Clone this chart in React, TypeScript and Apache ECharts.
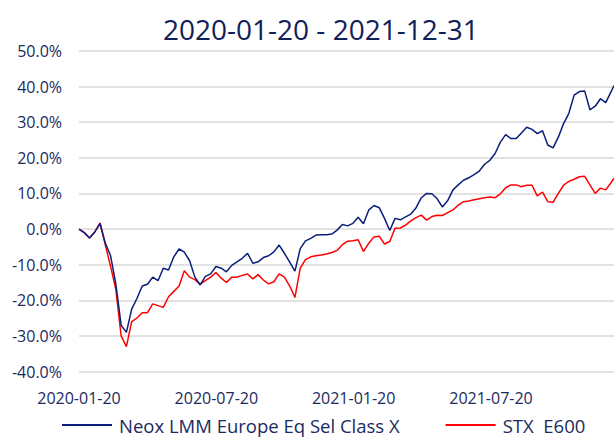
import React, { useEffect, useRef } from "react";
import * as echarts from "echarts";

const titleText = "2020-01-20 - 2021-12-31";
const startDate = "2020-01-20";
const endDate = "2021-12-31";
const xTickLabels = ["2020-01-20", "2020-07-20", "2021-01-20", "2021-07-20"];
const seriesNames = ["Neox LMM Europe Eq Sel Class X", "STX  E600"];

// weekly readings (every 7 calendar days from 2020-01-20), last value = 2021-12-31, in %
const neox = [
  0, -1.0, -2.5, -0.8, 1.5, -4.0, -7.5, -15.5, -27, -29,
  -22.5, -19.5, -16, -15.5, -13.5, -14.5, -11, -11.5, -7.8, -5.6,
  -6.5, -8.9, -13.5, -15.7, -13.3, -12.6, -10.5, -11, -12, -10.2,
  -9.2, -8.2, -6.8, -9.6, -9.2, -8, -7.5, -6.4, -4.5, -6.8,
  -9.3, -11.8, -5.5, -3.3, -2.6, -1.7, -1.6, -1.6, -1.4, -0.3,
  1.3, 0.9, 1.6, 3.3, 1.5, 5.3, 6.6, 6.0, 3.0, -0.4,
  3.0, 2.6, 3.4, 4.2, 6.0, 8.8, 10.0, 9.9, 8.5, 6.2,
  8.0, 11.0, 12.4, 13.7, 14.4, 15.3, 16.3, 18.2, 19.3, 21.2,
  24.4, 26.5, 25.4, 25.4, 27.0, 28.6, 28.0, 26.8, 27.6, 23.6,
  22.8, 25.8, 29.6, 32.5, 37.6, 38.6, 38.8, 33.5, 34.5, 36.6,
  35.5, 38.5, 40.3,
];
const stoxx = [
  0, -1.0, -2.5, -0.8, 1.7, -4.5, -10.5, -17, -30, -33,
  -26, -25, -23.5, -23.5, -21, -21.5, -22, -19, -17.5, -16,
  -11.7, -13.5, -14.2, -15.5, -14.5, -13.5, -12.2, -13.8, -15, -13.5,
  -13.5, -13, -12.6, -14, -12.8, -14.3, -15.4, -14.8, -12.6, -13.5,
  -16, -19.2, -11, -8.6, -7.8, -7.5, -7.3, -7, -6.6, -6,
  -4.4, -3.4, -3.3, -3.0, -6.3, -4.0, -2.2, -2.0, -4.2, -3.5,
  0.2, 0.3, 1.1, 2.3, 3.2, 3.9, 2.5, 3.5, 3.9, 3.8,
  4.6, 5.4, 6.7, 7.7, 7.9, 8.2, 8.5, 8.8, 9.0, 8.8,
  9.9, 11.6, 12.4, 12.4, 11.9, 12.3, 12.3, 9.3, 10.4, 7.7,
  7.5, 10.0, 12.3, 13.4, 14.0, 14.7, 14.8, 12.4, 10.0, 11.5,
  11.0, 13.0, 14.3,
];

const DAY = 86400000;
const totalDays = Math.round((Date.parse(endDate) - Date.parse(startDate)) / DAY);
const sampleDays = neox.map((_, i) => (i === neox.length - 1 ? totalDays : i * 7));
const TICK_STEP = 182.5;

const textColor = "#1B2A5E";
const font = "'Open Sans', 'Noto Sans', sans-serif";

export default function App() {
  const ref = useRef<HTMLDivElement>(null);
  useEffect(() => {
    if (!ref.current) return;
    const chart = echarts.init(ref.current, null, { renderer: "svg" });
    chart.setOption({
      animation: false,
      backgroundColor: "#ffffff",
      title: {
        text: titleText,
        left: 158,
        top: 10,
        textStyle: { color: "#0F2157", fontSize: 28, fontWeight: "normal", fontFamily: font },
      },
      legend: {
        top: 414,
        left: 62,
        padding: 0,
        itemWidth: 50,
        itemHeight: 2,
        itemGap: 46,
        icon: "rect",
        textStyle: { color: textColor, fontSize: 18.5, lineHeight: 22, fontFamily: font, padding: [0, 0, 0, 2] },
        data: seriesNames,
      },
      grid: { left: 79, right: 0, top: 51, bottom: 66.5 },
      xAxis: {
        type: "value",
        min: 0,
        max: totalDays,
        interval: TICK_STEP,
        axisLine: { show: false },
        axisTick: { show: false },
        splitLine: { show: false },
        axisLabel: {
          color: textColor,
          fontSize: 16,
          fontFamily: font,
          margin: 18,
          showMaxLabel: false,
          formatter: (v: number) => {
            const idx = Math.round(v / TICK_STEP);
            return Math.abs(v - idx * TICK_STEP) < 1 ? xTickLabels[idx] ?? "" : "";
          },
        },
      },
      yAxis: {
        type: "value",
        min: -40,
        max: 50,
        interval: 10,
        axisLine: { show: false },
        axisTick: { show: false },
        splitLine: { lineStyle: { color: "#D9D9D9", width: 1.5 } },
        axisLabel: {
          color: textColor,
          fontSize: 16,
          fontFamily: font,
          margin: 17,
          formatter: (v: number) => v.toFixed(1) + "%",
        },
      },
      series: [
        {
          name: seriesNames[0],
          type: "line",
          data: neox.map((v, i) => [sampleDays[i], v]),
          showSymbol: false,
          lineStyle: { color: "#0B1E7B", width: 1.5 },
          itemStyle: { color: "#0B1E7B" },
          z: 3,
        },
        {
          name: seriesNames[1],
          type: "line",
          data: stoxx.map((v, i) => [sampleDays[i], v]),
          showSymbol: false,
          lineStyle: { color: "#FF0000", width: 1.5 },
          itemStyle: { color: "#FF0000" },
          z: 2,
        },
      ],
    });
    return () => chart.dispose();
  }, []);
  return (
    <div
      ref={ref}
      style={{ position: "fixed", left: 0, top: 0, width: 614, height: 438 }}
    />
  );
}
